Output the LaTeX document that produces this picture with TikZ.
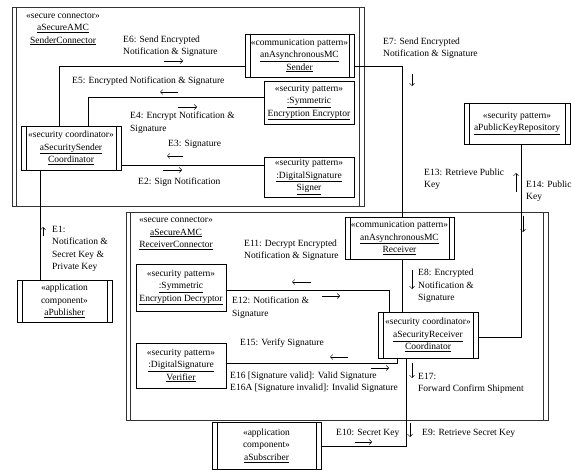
\documentclass[tikz,border=0pt]{standalone}
\usepackage{fontspec}
\setmainfont{Liberation Serif}
\usetikzlibrary{arrows.meta}
\tikzset{
  txt/.style={font=\fontsize{9.5}{12.5}\selectfont},
  lbl/.style={txt, align=left, inner sep=0pt, anchor=west},
  obj/.style={txt, draw, line width=0.8pt, inner sep=0pt, align=center},
  active/.style={obj, path picture={
      \draw[line width=0.8pt]
        ([xshift=5pt]path picture bounding box.north west) -- ([xshift=5pt]path picture bounding box.south west)
        ([xshift=-5pt]path picture bounding box.north east) -- ([xshift=-5pt]path picture bounding box.south east);}},
  connbox/.style={draw=black!80, line width=1pt, inner sep=0pt, path picture={
      \draw[black!80, line width=1pt]
        ([xshift=4.5pt]path picture bounding box.north west) -- ([xshift=4.5pt]path picture bounding box.south west)
        ([xshift=-4.5pt]path picture bounding box.north east) -- ([xshift=-4.5pt]path picture bounding box.south east);}},
  wire/.style={line width=0.8pt},
  msg/.style={line width=0.5pt, -{Straight Barb[length=2.5pt,width=5pt]}},
}
\begin{document}
\begin{tikzpicture}[x=1pt,y=-1pt]
\useasboundingbox (0,0) rectangle (572,470);

% connector boxes
\node[connbox, minimum width=352pt, minimum height=199pt] (sendconn) at (188,107.5) {};
\node[connbox, minimum width=422pt, minimum height=207pt] (recvconn) at (337,316.5) {};
\node[txt, align=center, inner sep=0pt] (sendconnlbl) at (63,29) {«secure connector»\\\underline{aSecureAMC}\\\underline{SenderConnector}};
\node[txt, align=center, inner sep=0pt] (recvconnlbl) at (176,233.5) {«secure connector»\\\underline{aSecureAMC}\\\underline{ReceiverConnector}};

% objects
\node[active, minimum width=109pt, minimum height=43pt] (sender) at (299.5,55.5) {«communication pattern»\\\underline{anAsynchronousMC}\\\underline{Sender}};
\node[obj, minimum width=90pt, minimum height=43pt] (encryptor) at (309,102.5) {«security pattern»\\\underline{:Symmetric}\\\underline{Encryption Encryptor}};
\node[obj, minimum width=90pt, minimum height=40pt] (signer) at (309,177) {«security pattern»\\\underline{:DigitalSignature}\\\underline{Signer}};
\node[active, minimum width=100pt, minimum height=44pt] (ssc) at (71,148) {«security coordinator»\\\underline{aSecuritySender}\\\underline{Coordinator}};
\node[active, minimum width=95pt, minimum height=42pt] (publisher) at (64.5,301) {«application\\component»\\\underline{aPublisher}};
\node[active, minimum width=109pt, minimum height=42pt] (receiver) at (399.5,238) {«communication pattern»\\\underline{anAsynchronousMC}\\\underline{Receiver}};
\node[active, minimum width=106pt, minimum height=41pt] (repo) at (517,123.5) {«security pattern»\\\underline{aPublicKeyRepository}};
\node[active, minimum width=100pt, minimum height=46pt] (src) at (428,335) {«security coordinator»\\\underline{aSecurityReceiver}\\\underline{Coordinator}};
\node[obj, minimum width=90pt, minimum height=47pt] (decryptor) at (181,287.5) {«security pattern»\\\underline{:Symmetric}\\\underline{Encryption Decryptor}};
\node[obj, minimum width=90pt, minimum height=45pt] (verifier) at (181,365.5) {«security pattern»\\\underline{:DigitalSignature}\\\underline{Verifier}};
\node[active, minimum width=109pt, minimum height=47pt] (subscriber) at (266.5,445.5) {«application\\component»\\\underline{aSubscriber}};

% links
\draw[wire] (59,0 |- ssc.north) |- (sender.west |- 0,66);
\draw[wire] (88,0 |- ssc.north) |- (encryptor.west |- 0,97);
\draw[wire] (ssc.east |- 0,165) -- (signer.west |- 0,165);
\draw[wire] (40,0 |- ssc.south) -- (40,0 |- publisher.north);
\draw[wire] (sender.east |- 0,66) -| (402,0 |- receiver.north);
\draw[wire] (402,0 |- receiver.south) -- (402,0 |- src.north);
\draw[wire] (decryptor.east |- 0,290) -| (389,0 |- src.north);
\draw[wire] (verifier.east |- 0,363) -| (397,0 |- src.south);
\draw[wire] (521,0 |- repo.south) |- (src.east |- 0,337);
\draw[wire] (406,0 |- src.south) |- (subscriber.east |- 0,446);

% message labels
\node[lbl] (e6) at (123,46) {E6: Send Encrypted\\Notification \& Signature};
\node[lbl] (e5) at (72,81) {E5: Encrypted Notification \& Signature};
\node[lbl] (e4) at (130,122.5) {E4: Encrypt Notification \&\\Signature};
\node[lbl] (e3) at (168,144) {E3: Signature};
\node[lbl] (e2) at (138,182) {E2: Sign Notification};
\node[lbl] (e1) at (52,249) {E1:\\Notification \&\\Secret Key \&\\Private Key};
\node[lbl] (e7) at (383,48) {E7: Send Encrypted\\Notification \& Signature};
\node[lbl] (e13) at (424,179) {E13: Retrieve Public\\Key};
\node[lbl] (e14) at (526,191) {E14: Public\\Key};
\node[lbl] (e11) at (244,250) {E11: Decrypt Encrypted\\Notification \& Signature};
\node[lbl] (e8) at (418,286) {E8: Encrypted\\Notification \&\\Signature};
\node[lbl] (e12) at (232,307.5) {E12: Notification \&\\Signature};
\node[lbl] (e15) at (240,343) {E15: Verify Signature};
\node[lbl] (e16) at (230,382) {E16 [Signature valid]: Valid Signature\\E16A [Signature invalid]: Invalid Signature};
\node[lbl] (e17) at (418,383.5) {E17:\\Forward Confirm Shipment};
\node[lbl] (e10) at (336,433) {E10: Secret Key};
\node[lbl] (e9) at (422,433) {E9: Retrieve Secret Key};

% direction arrows
\draw[msg] (164,61) -- (183,61);
\draw[msg] (178,92) -- (160,92);
\draw[msg] (178,107) -- (197,107);
\draw[msg] (183,156) -- (167,156);
\draw[msg] (163,170) -- (182,170);
\draw[msg] (43,236) -- (43,227);
\draw[msg] (412,74) -- (412,86);
\draw[msg] (516,192) -- (516,173);
\draw[msg] (523,216) -- (523,232);
\draw[msg] (412,270) -- (412,289);
\draw[msg] (311,282) -- (292,282);
\draw[msg] (322,296) -- (340,296);
\draw[msg] (348,357) -- (330,357);
\draw[msg] (371,368) -- (389,368);
\draw[msg] (412,363) -- (412,378);
\draw[msg] (355,442) -- (372,442);
\draw[msg] (410,423) -- (410,437);
\end{tikzpicture}
\end{document}
